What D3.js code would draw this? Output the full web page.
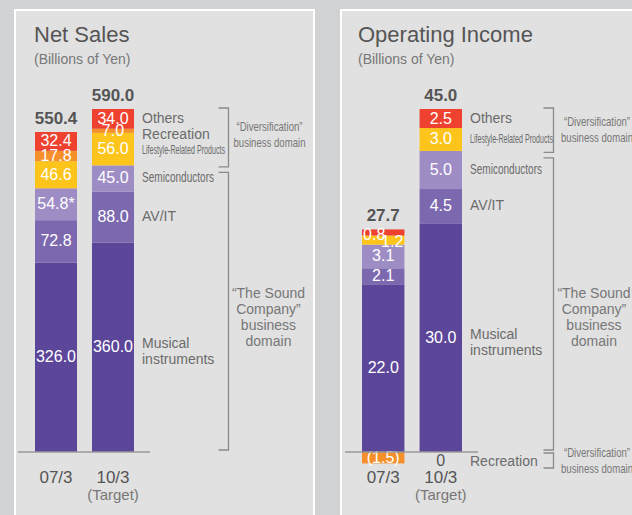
<!DOCTYPE html>
<html lang="en">
<head>
<meta charset="utf-8">
<title>net-sales-operating-income</title>
<script src="https://d3js.org/d3.v7.min.js"></script>
<style>
    body { margin: 0; background: #d1d2d4; }
    svg { display: block; font-family: "Liberation Sans", Arial, sans-serif; }
</style>
</head>
<body>
<svg id="canvas" width="632" height="515"></svg>
<script>
// ---- data ----
const years = ["07/3", "10/3"];
const yearNotes = ["", "(Target)"];
const segments = ["Musical instruments", "AV/IT", "Semiconductors", "Lifestyle-Related Products", "Recreation", "Others"];
const segmentColors = ["#5c4699", "#7c68ae", "#9e8dc4", "#fdc51c", "#f5902a", "#ee4130"];

const netSales073 = [326.0, 72.8, 54.8, 46.6, 17.8, 32.4];
const netSales103 = [360.0, 88.0, 45.0, 56.0, 7.0, 34.0];
const netSalesTotals = [550.4, 590.0];
const netSalesNotes = ["", "", "*", "", "", ""];   // 07/3 semiconductors has an asterisk

const opIncome073 = [22.0, 2.1, 3.1, 1.2, -1.5, 0.8];
const opIncome103 = [30.0, 4.5, 5.0, 3.0, 0, 2.5];
const opIncomeTotals = [27.7, 45.0];

const svg = d3.select("#canvas");

// panels
svg.append("rect").attr("x", 15).attr("y", 10).attr("width", 299).attr("height", 520)
    .attr("fill", "#e1e1e1").attr("stroke", "#fff").attr("stroke-width", 2);
svg.append("rect").attr("x", 341).attr("y", 10).attr("width", 320).attr("height", 520)
    .attr("fill", "#e1e1e1").attr("stroke", "#fff").attr("stroke-width", 2);

function fmt(v) {
    if (v < 0) return "(" + Math.abs(v).toFixed(1) + ")";
    return v.toFixed(1);
}

function drawPanel(p) {
    const g = svg.append("g");
    const rows = years.map((yr, i) => {
        const r = { year: yr };
        segments.forEach((s, k) => r[s] = p.values[i][k]);
        return r;
    });
    const series = d3.stack().keys(segments).offset(d3.stackOffsetDiverging)(rows);

    const x = d3.scaleBand().domain(years).range(p.xRange).paddingInner(0.263).paddingOuter(0);
    const y = d3.scaleLinear().domain([0, p.max]).range([452, 109]);
    const px = v => Math.abs(y(0) - y(v));

    // title
    g.append("text").attr("x", p.titleX).attr("y", 42).attr("font-size", 22).attr("fill", "#555").text(p.title);
    g.append("text").attr("x", p.titleX).attr("y", 64).attr("font-size", 14).attr("fill", "#777").text("(Billions of Yen)");

    // bars
    g.selectAll("g.seg").data(series).join("g").attr("fill", (d, i) => segmentColors[i])
        .selectAll("rect").data(d => d).join("rect")
        .attr("x", d => x(d.data.year))
        .attr("width", x.bandwidth())
        .attr("y", d => y(d[1]))
        .attr("height", d => Math.abs(y(d[0]) - y(d[1])));

    // value labels inside bars
    years.forEach((yr, i) => {
        const cx = x(yr) + x.bandwidth() / 2;
        // positive slices in stacking order, to spot two tiny ones touching
        const pos = segments.map((s, k) => k).filter(k => p.values[i][k] > 0);
        segments.forEach((s, k) => {
            const v = p.values[i][k];
            const d = series[k][i];
            if (v === 0) {
                g.append("text").attr("x", cx).attr("y", 466).attr("text-anchor", "middle")
                    .attr("font-size", 16).attr("fill", "#555").text("0");
                return;
            }
            let dx = 0, dy = 5;
            const j = pos.indexOf(k);
            if (j >= 0 && px(v) < 10) {
                const below = j > 0 ? pos[j - 1] : null;
                const above = j < pos.length - 1 ? pos[j + 1] : null;
                if (above !== null && px(p.values[i][above]) < 10) { dx = 9; dy = 7; }
                else if (below !== null && px(p.values[i][below]) < 10) { dx = -9; dy = 8; }
            }
            g.append("text")
                .attr("x", cx + dx)
                .attr("y", (y(d[0]) + y(d[1])) / 2 + dy)
                .attr("text-anchor", "middle").attr("font-size", 16).attr("fill", "#fff")
                .text(fmt(v) + (p.notes && i === 0 ? p.notes[k] : ""));
        });
    });

    // totals, above the top of each stack
    years.forEach((yr, i) => {
        const top = d3.max(series, s => s[i][1]);
        g.append("text").attr("x", x(yr) + x.bandwidth() / 2).attr("y", y(top) - 8)
            .attr("text-anchor", "middle").attr("font-size", 17).attr("font-weight", "bold")
            .attr("fill", "#555").text(p.totals[i].toFixed(1));
    });

    // baseline
    g.append("line").attr("x1", p.xRange[0] - 17).attr("x2", p.xRange[1] + 16)
        .attr("y1", y(0)).attr("y2", y(0)).attr("stroke", "#999").attr("stroke-width", 1.5);

    // category axis
    years.forEach((yr, i) => {
        const cx = x(yr) + x.bandwidth() / 2;
        g.append("text").attr("x", cx).attr("y", 483).attr("text-anchor", "middle")
            .attr("font-size", 17).attr("fill", "#555").text(yr);
        if (yearNotes[i]) g.append("text").attr("x", cx).attr("y", 500).attr("text-anchor", "middle")
            .attr("font-size", 15).attr("fill", "#777").text(yearNotes[i]);
    });

    // segment names next to the target bar
    const last = years.length - 1;
    const lx = x(years[last]) + x.bandwidth() + 8;
    const names = [];
    series.forEach((s, k) => {
        const d = s[last];
        const v = p.values[last][k];
        if (v === 0 && !p.showZero) return;
        names.push({ k, v, y: v === 0 ? 466 : (y(d[0]) + y(d[1])) / 2 + 4 });
    });
    names.sort((a, b) => a.y - b.y);
    const small = { 2: [14, 72], 3: [13, 83] };
    let prevY = -100;
    names.forEach(n => {
        const fs = small[n.k] ? small[n.k][0] : 14;
        if (n.v !== 0) n.y = Math.max(n.y, prevY + fs + 2);
        prevY = n.y;
        if (n.k === 0) {
            const t = g.append("text").attr("x", lx).attr("y", n.y - 3).attr("font-size", 14).attr("fill", "#6b6b6b");
            t.append("tspan").attr("x", lx).text("Musical");
            t.append("tspan").attr("x", lx).attr("dy", 16).text("instruments");
            return;
        }
        const t = g.append("text").attr("x", lx).attr("y", n.y).attr("font-size", fs).attr("fill", "#6b6b6b").text(segments[n.k]);
        if (small[n.k]) t.attr("textLength", small[n.k][1]).attr("lengthAdjust", "spacingAndGlyphs");
    });

    // brackets
    const bx = p.bracketX;
    function bracket(y1, y2) {
        g.append("path").attr("d", `M${bx - 10},${y1}H${bx}V${y2}H${bx - 10}`)
            .attr("fill", "none").attr("stroke", "#8a8a8a").attr("stroke-width", 1.3);
    }
    function bracketLabel(cx, yTop, lines, condensed) {
        lines.forEach((ln, i) => {
            const t = g.append("text").attr("x", cx).attr("y", yTop + i * (condensed ? 15.5 : 16))
                .attr("text-anchor", "middle").attr("font-size", condensed ? 13 : 14).attr("fill", "#777").text(ln);
            if (condensed) t.attr("textLength", i === 0 ? 66 : 72).attr("lengthAdjust", "spacingAndGlyphs");
        });
    }
    const split = y(series[2][last][1]);   // top of semiconductors in target bar
    bracket(y(p.totals[last]) - 1, split + 1.5);
    bracket(split + 7, y(0) - 2);
    bracketLabel(p.divLabelX, p.divLabelY, ["\u201cDiversification\u201d", "business domain"], true);
    bracketLabel(p.soundLabelX, 298, ["\u201cThe Sound", "Company\u201d", "business", "domain"], false);
    if (p.showZero) {
        bracket(y(0) + 1, y(0) + 16);
        bracketLabel(p.divLabelX, 457, ["\u201cDiversification\u201d", "business domain"], true);
    }
}

drawPanel({
    title: "Net Sales", titleX: 34,
    values: [netSales073, netSales103], totals: netSalesTotals, notes: netSalesNotes,
    max: 590, xRange: [35, 134],
    bracketX: 228.5, divLabelX: 269.5, divLabelY: 131, soundLabelX: 268.5, showZero: false
});

drawPanel({
    title: "Operating Income", titleX: 358,
    values: [opIncome073, opIncome103], totals: opIncomeTotals,
    max: 45, xRange: [362, 462],
    bracketX: 553.5, divLabelX: 597, divLabelY: 126, soundLabelX: 594, showZero: true
});
</script>
</body>
</html>
